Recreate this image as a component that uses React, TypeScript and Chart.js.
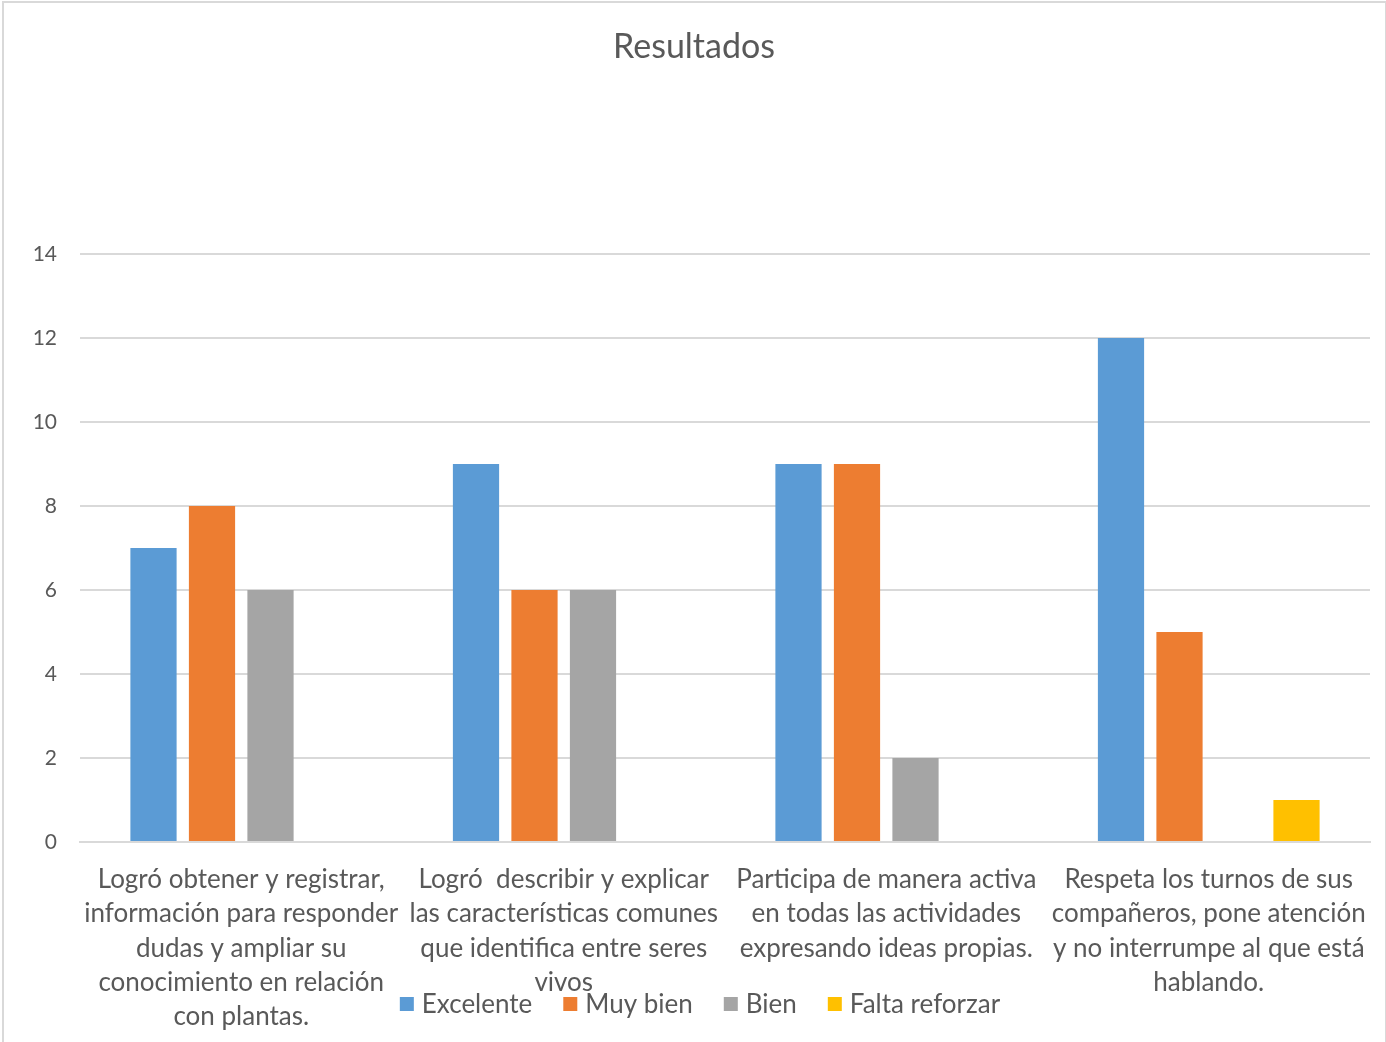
import React, { useEffect, useRef } from "react";
import { Chart, registerables } from "chart.js";

Chart.register(...registerables);

const categories: string[][] = [
  ["Logró obtener y registrar,", "información para responder", "dudas y ampliar su", "conocimiento en relación", "con plantas."],
  ["Logró  describir y explicar", "las características comunes", "que identifica entre seres", "vivos"],
  ["Participa de manera activa", "en todas las actividades", "expresando ideas propias."],
  ["Respeta los turnos de sus", "compañeros, pone atención", "y no interrumpe al que está", "hablando."],
];

const chartTitle = "Resultados";
const seriesNames = ["Excelente", "Muy bien", "Bien", "Falta reforzar"];
const excelente = [7, 9, 9, 12];
const muyBien = [8, 6, 9, 5];
const bien = [6, 6, 2, 0];
const faltaReforzar = [0, 0, 0, 1];
const seriesColors = ["#5b9bd5", "#ed7d31", "#a5a5a5", "#ffc000"];
const yTicks = [0, 2, 4, 6, 8, 10, 12, 14];

const FONT = "Lato, 'Noto Sans', sans-serif";
const TEXT = "#595959";

const titlePlugin = {
  id: "customTitle",
  afterDraw(chart: any) {
    const ctx = chart.ctx;
    ctx.save();
    ctx.font = `34px ${FONT}`;
    ctx.fillStyle = TEXT;
    ctx.textAlign = "center";
    ctx.textBaseline = "middle";
    ctx.fillText(chartTitle, 694, 47);
    ctx.restore();
  },
};

const legendPlugin = {
  id: "bottomLegend",
  afterDraw(chart: any) {
    const ctx = chart.ctx;
    ctx.save();
    ctx.font = `26px ${FONT}`;
    ctx.textBaseline = "middle";
    ctx.textAlign = "left";
    const box = 14;
    const boxGap = 8;
    const itemGap = 31;
    const items = chart.data.datasets.map((d: any) => ({
      label: d.label,
      color: d.backgroundColor,
      w: box + boxGap + ctx.measureText(d.label).width,
    }));
    const total = items.reduce((s: number, it: any) => s + it.w, 0) + itemGap * (items.length - 1);
    let x = 700 - total / 2;
    const y = 1004;
    for (const it of items) {
      ctx.fillStyle = it.color;
      ctx.fillRect(x, y - box / 2, box, box);
      ctx.fillStyle = TEXT;
      ctx.fillText(it.label, x + box + boxGap, y + 1);
      x += it.w + itemGap;
    }
    ctx.restore();
  },
};

export default function App() {
  const ref = useRef<HTMLCanvasElement | null>(null);
  useEffect(() => {
    if (!ref.current) return;
    const values = [excelente, muyBien, bien, faltaReforzar];
    const chart = new Chart(ref.current, {
      type: "bar",
      data: {
        labels: categories,
        datasets: seriesNames.map((name, i) => ({
          label: name,
          data: values[i],
          backgroundColor: seriesColors[i],
          categoryPercentage: 0.7256,
          barPercentage: 0.79,
        })),
      },
      options: {
        responsive: false,
        animation: false,
        devicePixelRatio: 1,
        layout: { padding: { left: 0, right: 16, top: 254, bottom: 0 } },
        plugins: {
          legend: { display: false },
          tooltip: { enabled: false },
          title: { display: false },
        },
        scales: {
          x: {
            grid: { display: false, drawTicks: false },
            border: { display: true, color: "#d9d9d9", width: 2 },
            ticks: {
              color: TEXT,
              font: { family: FONT, size: 26, lineHeight: 1.31 },
              padding: 21,
              maxRotation: 0,
              autoSkip: false,
            },
            afterFit(scale: any) {
              scale.height = 200;
              scale.paddingLeft = 0;
              scale.paddingRight = 0;
            },
          },
          y: {
            min: 0,
            max: 14,
            afterBuildTicks(scale: any) {
              scale.ticks = yTicks.map((v) => ({ value: v }));
            },
            grid: { color: "#d9d9d9", lineWidth: 2, drawTicks: false },
            border: { display: false },
            ticks: {
              color: TEXT,
              font: { family: FONT, size: 21 },
              padding: 23,
            },
            afterFit(scale: any) {
              scale.width = 80;
              scale.paddingTop = 0;
              scale.paddingBottom = 0;
            },
          },
        },
      },
      plugins: [titlePlugin, legendPlugin],
    });
    return () => chart.destroy();
  }, []);

  return (
    <div style={{ position: "fixed", left: 0, top: 0, width: 1386, height: 1042, background: "#fff" }}>
      <canvas ref={ref} width={1386} height={1042} style={{ position: "absolute", left: 0, top: 0 }} />
      <div
        style={{
          position: "absolute",
          left: 2,
          top: 1,
          width: 1381,
          height: 1060,
          borderLeft: "2px solid #d9d9d9",
          borderTop: "2px solid #d9d9d9",
          borderRight: "2px solid #d9d9d9",
          pointerEvents: "none",
        }}
      />
    </div>
  );
}
